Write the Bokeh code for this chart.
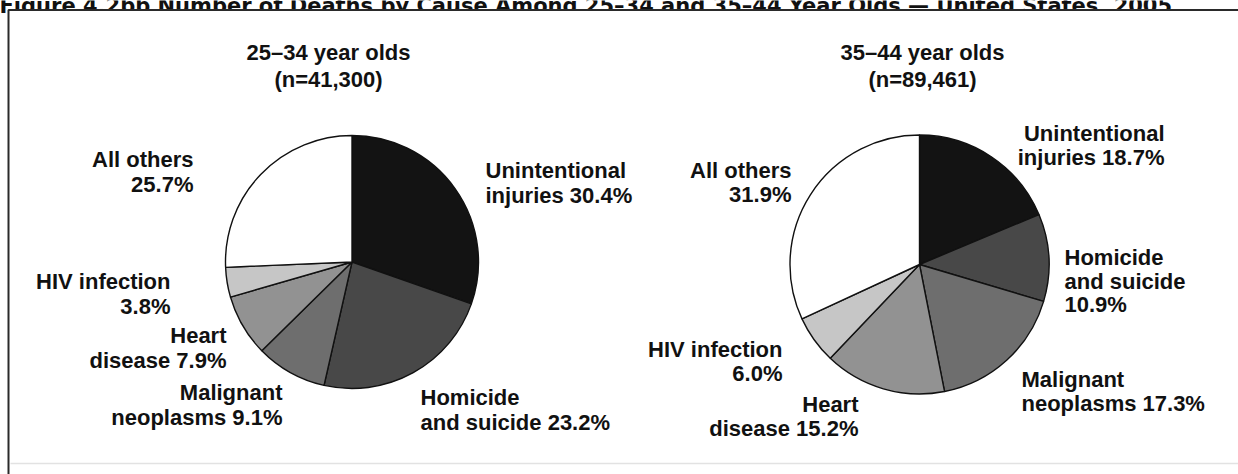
import math
from bokeh.plotting import figure
from bokeh.models import Range1d
from bokeh.core.properties import value
from bokeh.embed import file_html
from bokeh.resources import INLINE

# ---------------- data ----------------
categories = ["Unintentional injuries", "Homicide and suicide", "Malignant neoplasms",
              "Heart disease", "HIV infection", "All others"]
pct_25_34 = [30.4, 23.2, 9.1, 7.9, 3.8, 25.7]
pct_35_44 = [18.7, 10.9, 17.3, 15.2, 6.0, 31.9]
figure_title = ("Figure 4.2bb Number of Deaths by Cause Among 25\u201334 and 35\u201344 "
                "Year Olds \u2014 United States, 2005")
titles_25_34 = ["25\u201334 year olds", "(n=41,300)"]
titles_35_44 = ["35\u201344 year olds", "(n=89,461)"]
label_fmt_25_34 = ["Unintentional\ninjuries {}%", "Homicide\nand suicide {}%",
                   "Malignant\nneoplasms {}%", "Heart\ndisease {}%",
                   "HIV infection\n{}%", "All others\n{}%"]
label_fmt_35_44 = ["Unintentional\ninjuries {}%", "Homicide\nand suicide\n{}%",
                   "Malignant\nneoplasms {}%", "Heart\ndisease {}%",
                   "HIV infection\n{}%", "All others\n{}%"]
slice_colors = ["#131313", "#484848", "#6e6e6e", "#929292", "#c6c6c6", "#ffffff"]

# ---------------- layout ----------------
W, H = 1238, 474
OFF = 0


def px(x):
    return x - OFF


def py(y):
    return H - (y - OFF)


FONT = value("Liberation Sans")
FSIZE = "22px"
TXT = "#111111"
LINE_H = 24.5

p = figure(width=W, height=H, output_backend="svg", toolbar_location=None,
           x_range=Range1d(0, W), y_range=Range1d(0, H), min_border=0)
p.axis.visible = False
p.grid.visible = False
p.outline_line_color = None
p.background_fill_color = "white"
p.border_fill_color = "white"

# figure title, cut off at the top edge as in the source image
p.text(x=[px(-1)], y=[py(5)], text=[figure_title], text_font=value("DejaVu Sans"),
       text_font_style="bold", text_font_size="21px", text_color="#111111",
       text_align="left", text_baseline="alphabetic")

# frame box (left + top edges visible, rest runs past the page)
p.quad(left=[px(8)], right=[W + 40], top=[py(9.5)], bottom=[-40],
       fill_color="white", line_color="#2a2a2a", line_width=2)
p.line(x=[px(10), W], y=[py(463), py(463)], line_color="#e2e2e2", line_width=1.5)


def draw_pie(cx, cy, r, vals):
    total = sum(vals)
    cum = 0.0
    starts, ends = [], []
    for v in vals:
        a0 = math.pi / 2 - 2 * math.pi * cum / total
        cum += v
        a1 = math.pi / 2 - 2 * math.pi * cum / total
        starts.append(a1)
        ends.append(a0)
    p.wedge(x=[px(cx)] * len(vals), y=[py(cy)] * len(vals), radius=r,
            start_angle=starts, end_angle=ends, direction="anticlock",
            fill_color=slice_colors, line_color="#111111", line_width=1.4)


def draw_text(lines, x, y, align, spacing=LINE_H):
    for i, t in enumerate(lines):
        p.text(x=[px(x)], y=[py(y + i * spacing)], text=[t], text_font=FONT,
               text_font_style="bold", text_font_size=FSIZE, text_color=TXT,
               text_align=align, text_baseline="alphabetic")


draw_pie(351.5, 261.5, 126.5, pct_25_34)
draw_pie(919, 264, 129.5, pct_35_44)

draw_text(titles_25_34, 328, 52, "center", 27)
draw_text(titles_35_44, 922, 52, "center", 27)

# label anchors (page px): x, first baseline y, alignment
pos_25_34 = [(485, 170, "left"), (420, 397, "left"), (282, 392, "right"),
             (226, 335, "right"), (170, 281, "right"), (193, 159, "right")]
pos_35_44 = [(1164, 133, "right"), (1064, 257, "left"), (1021, 379, "left"),
             (858, 404, "right"), (782, 349, "right"), (791, 170, "right")]

for fmt, v, (x, y, al) in zip(label_fmt_25_34, pct_25_34, pos_25_34):
    draw_text(fmt.format(v).split("\n"), x, y, al)
for fmt, v, (x, y, al) in zip(label_fmt_35_44, pct_35_44, pos_35_44):
    draw_text(fmt.format(v).split("\n"), x, y, al, 23.5)

open("out.html", "w").write(file_html(p, INLINE))
